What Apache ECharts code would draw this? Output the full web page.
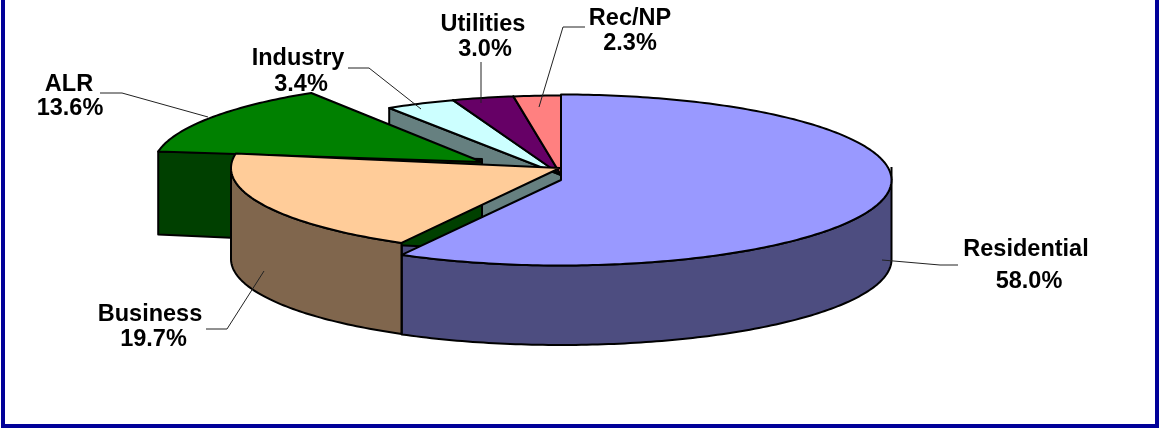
<!DOCTYPE html>
<html>
<head>
<meta charset="utf-8">
<style>html,body{margin:0;padding:0;background:#fff}#c{width:1159px;height:428px}</style>
<script src="https://cdn.jsdelivr.net/npm/echarts@6/dist/echarts.min.js"></script>
</head>
<body>
<div id="c"></div>
<script>
// ---- data ----
const categories = ['Residential', 'Business', 'ALR', 'Industry', 'Utilities', 'Rec/NP'];
const shares = [58.0, 19.7, 13.6, 3.4, 3.0, 2.3];

// ---- styles ----
const topColors = ['#9999FF', '#FFCC99', '#008000', '#CCFFFF', '#660066', '#FF8080'];
const wallColors = ['#4D4D80', '#80664D', '#004000', '#668080', '#330033', '#804040'];

// ---- layout of the tilted pie (slice placement is not data) ----
const radiiX = [330.5, 329, 328.5, 330.5, 330.5, 330.5];
const RY = 85.5;
const centres = [[561, 180], [560, 168], [482, 166], [561, 181], [561, 181], [561, 181]];
const apexLift = [0, 0, 4, 6, 6, 6];
const depths = [79.5, 91, 83, 83, 83, 83];
const innerWallShift = [-12, 0, 0, 0, 0, 0];

// ---- label layout ----
const labelX = [[1026, 1029], [150, 153.5], [69, 70], [298, 301], [483, 485], [630, 630]];
const labelY = [[250, 282], [315, 340], [85, 109], [59, 85], [25, 50], [19, 44]];
const leaders = [
  [[882, 260], [940, 265], [958, 265]],
  [[264, 271], [227, 329], [206, 329]],
  [[208, 117], [122, 93], [100, 93]],
  [[421, 109], [369, 68], [348, 68]],
  [[481, 103], [481, 62]],
  [[539, 107], [563, 27], [585, 27]]
];

const total = shares.reduce((a, b) => a + b, 0);
const starts = [];
shares.reduce((acc, v, i) => { starts[i] = acc; return acc + v; }, 0);
const toAngle = v => v / total * Math.PI * 2;

const LINE = { stroke: '#000', lineWidth: 2, lineJoin: 'round' };
const FONT = 'bold 23.5px "Liberation Sans", Arial, sans-serif';

// draw layers, back to front
const layerWall = [0, 0, 5, 3, 2, 1]; // radial (inner) walls
const layerTop = [11, 13, 7, 8, 8, 8];
const layerRim = [9, 10];

function renderSlice(params, api) {
  const i = params.dataIndex;
  const value = api.value(1);
  const a0 = toAngle(starts[i]);
  const a1 = a0 + toAngle(value);
  const [cx, cy] = centres[i];
  const RX = radiiX[i];
  const d = depths[i];
  const apexY = cy - apexLift[i];
  const c = (x, y) => api.coord([x, y]);
  const rim = (t, dy) => c(cx + RX * Math.sin(t), cy - RY * Math.cos(t) + (dy || 0));
  const arc = (from, to, dy) => {
    const n = Math.max(2, Math.ceil(Math.abs(to - from) * 60));
    const out = [];
    for (let k = 0; k <= n; k++) out.push(rim(from + (to - from) * k / n, dy));
    return out;
  };
  const children = [];
  // top face
  children.push({
    type: 'polygon', z2: layerTop[i],
    shape: { points: [c(cx, apexY)].concat(arc(a0, a1)) },
    style: Object.assign({ fill: topColors[i] }, LINE), silent: true
  });
  // inner radial wall
  const wallT = i === 0 ? a1 : a0;
  if (i !== 1) {
    const s = innerWallShift[i];
    const topY = (i === 2 ? apexY - 3 : apexY) + s;
    children.push({
      type: 'polygon', z2: layerWall[i],
      shape: { points: [c(cx, topY), rim(wallT, s), rim(wallT, d + s), c(cx, cy + d + s)] },
      style: Object.assign({ fill: wallColors[i] }, LINE), silent: true
    });
  }
  // outer rim wall on the two front slices
  if (i < 2) {
    const from = i === 0 ? Math.max(a0, Math.PI / 2) : a0;
    const to = i === 0 ? a1 : Math.min(a1, Math.PI * 1.5);
    children.push({
      type: 'polygon', z2: layerRim[i],
      shape: { points: arc(from, to).concat(arc(to, from, d)) },
      style: Object.assign({ fill: wallColors[i] }, LINE), silent: true
    });
    if (i === 0) {
      children.push({
        type: 'polyline', z2: layerRim[i],
        shape: { points: [rim(Math.PI / 2), rim(Math.PI / 2, -13)] },
        style: Object.assign({ fill: 'none' }, LINE), silent: true
      });
    }
  }
  // leader
  children.push({
    type: 'polyline', z2: 20,
    shape: { points: leaders[i].map(p => c(p[0], p[1])) },
    style: { fill: 'none', stroke: '#222', lineWidth: 1 }, silent: true
  });
  // label
  const lines = [categories[i], value.toFixed(1) + '%'];
  lines.forEach((t, k) => {
    const p = c(labelX[i][k], labelY[i][k]);
    children.push({
      type: 'text', z2: 21, silent: true,
      style: { text: t, x: p[0], y: p[1], fill: '#000', font: FONT, align: 'center', verticalAlign: 'middle' }
    });
  });
  return { type: 'group', children };
}

const chart = echarts.init(document.getElementById('c'), null, { renderer: 'canvas' });
chart.setOption({
  animation: false,
  backgroundColor: '#fff',
  tooltip: { show: false },
  grid: { left: 0, right: 0, top: 0, bottom: 0 },
  xAxis: { type: 'value', min: 0, max: 1159, show: false },
  yAxis: { type: 'value', min: 0, max: 428, inverse: true, show: false },
  graphic: [{
    type: 'rect', z: 100, silent: true,
    shape: { x: 3, y: -6, width: 1154, height: 432 },
    style: { fill: 'none', stroke: '#000099', lineWidth: 4 }
  }],
  series: [{
    type: 'custom',
    coordinateSystem: 'cartesian2d',
    clip: false,
    silent: true,
    renderItem: renderSlice,
    encode: { x: 0, y: 1 },
    data: categories.map((name, i) => ({ name, value: [i, shares[i]] }))
  }]
});
</script>
</body>
</html>
